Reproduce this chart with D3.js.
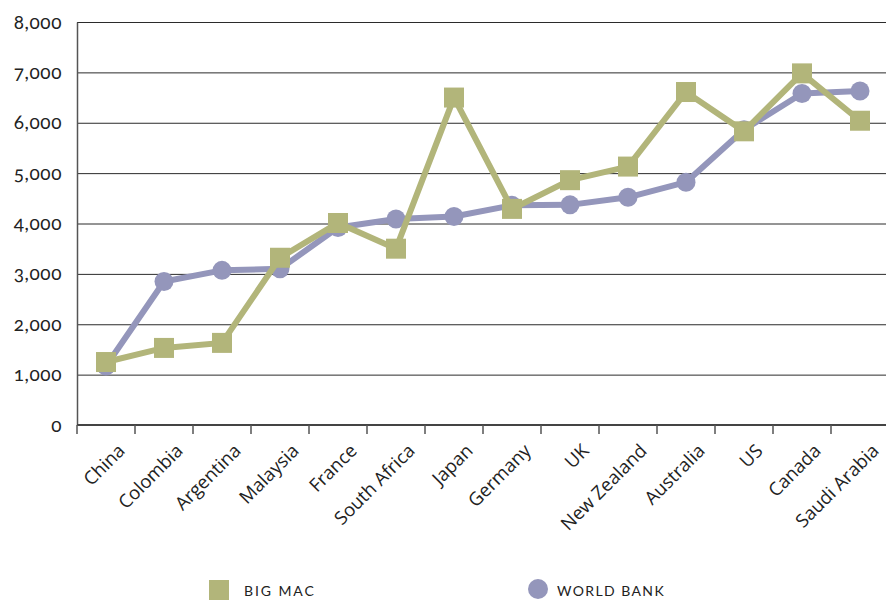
<!DOCTYPE html>
<html>
<head>
<meta charset="utf-8">
<script src="https://cdn.jsdelivr.net/npm/d3@7"></script>
<style>
  body { margin: 0; background: #fff; }
  svg { display: block; }
</style>
</head>
<body>
<svg id="chart" width="886" height="604"></svg>
<script>
// Countries along the x axis
const countries = ["China", "Colombia", "Argentina", "Malaysia", "France", "South Africa",
  "Japan", "Germany", "UK", "New Zealand", "Australia", "US", "Canada", "Saudi Arabia"];
// Big Mac index based estimate
const bigMac = [1250, 1530, 1630, 3320, 4010, 3500, 6500, 4290, 4860, 5130, 6610, 5830, 6980, 6040];
// World Bank estimate
const worldBank = [1170, 2850, 3070, 3100, 3920, 4090, 4140, 4360, 4370, 4520, 4820, 5860, 6580, 6630];
// Y axis ticks
const yTicks = [0, 1000, 2000, 3000, 4000, 5000, 6000, 7000, 8000];

const colorBigMac = "#b2b57a";
const colorWorldBank = "#9496bb";

const svg = d3.select("#chart");
const plotLeft = 77, plotRight = 889, plotTop = 22, plotBottom = 425;

const x = d3.scaleBand().domain(countries).range([plotLeft, plotRight]);
const y = d3.scaleLinear().domain([0, 8000]).range([plotBottom, plotTop]);
const fmt = d3.format(",");

// Horizontal grid lines
svg.append("g").selectAll("line")
  .data(yTicks.filter(d => d > 0))
  .join("line")
  .attr("x1", plotLeft).attr("x2", 886)
  .attr("y1", d => y(d) + 0.5).attr("y2", d => y(d) + 0.5)
  .attr("stroke", "#2b2b2b").attr("stroke-width", 1);

// Y axis
const yAxis = svg.append("g")
  .attr("transform", `translate(${plotLeft},0)`)
  .call(d3.axisLeft(y).tickValues(yTicks).tickFormat(fmt).tickSize(0).tickPadding(15));
yAxis.select(".domain").attr("stroke", "#555").attr("stroke-width", 1.5);
yAxis.selectAll("text")
  .attr("font-family", "Lato, 'Open Sans', sans-serif")
  .attr("font-size", 19)
  .attr("letter-spacing", 0.6)
  .style("font-variant-numeric", "oldstyle-nums")
  .attr("fill", "#222");

// X axis with ticks on category boundaries
const xAxisG = svg.append("g").attr("transform", `translate(0,${plotBottom})`);
xAxisG.append("line")
  .attr("x1", plotLeft).attr("x2", 886).attr("y1", 0).attr("y2", 0)
  .attr("stroke", "#444").attr("stroke-width", 2);
xAxisG.selectAll("line.tick")
  .data(countries)
  .join("line")
  .attr("class", "tick")
  .attr("x1", d => x(d)).attr("x2", d => x(d))
  .attr("y1", 0).attr("y2", 9)
  .attr("stroke", "#555").attr("stroke-width", 1.5);
xAxisG.selectAll("text")
  .data(countries)
  .join("text")
  .attr("transform", d => `translate(${x(d) + x.bandwidth() / 2 + 20},${27}) rotate(-45)`)
  .attr("text-anchor", "end")
  .attr("font-family", "'Open Sans', sans-serif")
  .attr("font-size", 18.5)
  .attr("fill", "#222")
  .text(d => d);

const cx = d => x(d) + x.bandwidth() / 2;

// World Bank line and circles
const wbData = countries.map((c, i) => ({ c, v: worldBank[i] }));
const bmData = countries.map((c, i) => ({ c, v: bigMac[i] }));
const line = d3.line().x(d => cx(d.c)).y(d => y(d.v));

svg.append("path")
  .datum(wbData)
  .attr("d", line)
  .attr("fill", "none")
  .attr("stroke", colorWorldBank)
  .attr("stroke-width", 6)
  .attr("stroke-linejoin", "round");
svg.append("g").selectAll("circle")
  .data(wbData)
  .join("circle")
  .attr("cx", d => cx(d.c)).attr("cy", d => y(d.v))
  .attr("r", 9.5)
  .attr("fill", colorWorldBank);

// Big Mac line and squares
svg.append("path")
  .datum(bmData)
  .attr("d", line)
  .attr("fill", "none")
  .attr("stroke", colorBigMac)
  .attr("stroke-width", 6)
  .attr("stroke-linejoin", "miter");
const sq = 20;
svg.append("g").selectAll("rect")
  .data(bmData)
  .join("rect")
  .attr("x", d => cx(d.c) - sq / 2).attr("y", d => y(d.v) - sq / 2)
  .attr("width", sq).attr("height", sq)
  .attr("fill", colorBigMac);

// Legend
const legend = svg.append("g").attr("font-family", "Lato, 'Open Sans', sans-serif");
legend.append("rect").attr("x", 209).attr("y", 580).attr("width", 20).attr("height", 20).attr("fill", colorBigMac);
legend.append("text").attr("x", 244).attr("y", 596).attr("font-size", 14)
  .attr("letter-spacing", 1.9).attr("fill", "#222").text("BIG MAC");
legend.append("circle").attr("cx", 538).attr("cy", 589).attr("r", 10).attr("fill", colorWorldBank);
legend.append("text").attr("x", 557).attr("y", 596).attr("font-size", 14)
  .attr("letter-spacing", 1.4).attr("fill", "#222").text("WORLD BANK");
</script>
</body>
</html>
